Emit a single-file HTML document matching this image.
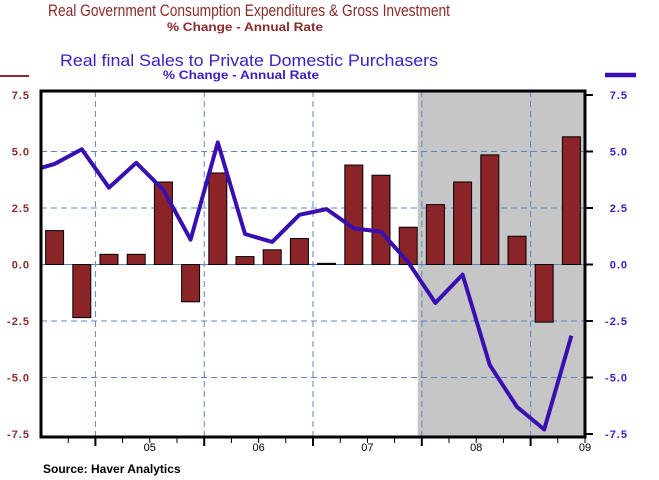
<!DOCTYPE html>
<html><head><meta charset="utf-8">
<style>
html,body{margin:0;padding:0;background:#fff;}
svg{display:block;font-family:"Liberation Sans",Arial,sans-serif;}
</style></head>
<body>
<svg id="chart" width="659" height="480" viewBox="0 0 659 480">
  <text x="249" y="16" text-anchor="middle" font-size="17" fill="#8b2a2a" textLength="402" lengthAdjust="spacingAndGlyphs">Real Government Consumption Expenditures &amp; Gross Investment</text>
  <text x="245" y="31" text-anchor="middle" font-size="12" font-weight="bold" fill="#8b2a2a" textLength="156" lengthAdjust="spacingAndGlyphs">% Change - Annual Rate</text>
  <text x="249" y="66" text-anchor="middle" font-size="17" fill="#3a1fc0" textLength="378" lengthAdjust="spacingAndGlyphs">Real final Sales to Private Domestic Purchasers</text>
  <text x="241" y="79" text-anchor="middle" font-size="12" font-weight="bold" fill="#3a1fc0" textLength="156" lengthAdjust="spacingAndGlyphs">% Change - Annual Rate</text>
  <line x1="0" y1="76" x2="29" y2="76" stroke="#8b2a2a" stroke-width="2"/>
  <line x1="605" y1="75" x2="636" y2="75" stroke="#3a0fb0" stroke-width="4.5"/>
  <g id="plot"></g>
  <text x="43" y="473" font-size="12" font-weight="bold" fill="#000">Source: Haver Analytics</text>
</svg>
<script>
const quarters = ["04Q3","04Q4","05Q1","05Q2","05Q3","05Q4","06Q1","06Q2","06Q3","06Q4","07Q1","07Q2","07Q3","07Q4","08Q1","08Q2","08Q3","08Q4","09Q1","09Q2"];
const govValues = [1.5,-2.35,0.45,0.45,3.65,-1.65,4.05,0.35,0.65,1.15,0.05,4.4,3.95,1.65,2.65,3.65,4.85,1.25,-2.55,5.65];
const priorSalesValue = 4.1;
const salesValues = [4.45,5.1,3.4,4.5,3.3,1.1,5.4,1.35,1.0,2.2,2.45,1.6,1.45,0.1,-1.7,-0.45,-4.45,-6.3,-7.3,-3.15];
const yTicks = [7.5,5.0,2.5,0.0,-2.5,-5.0,-7.5];
const yearLabels = ["05","06","07","08","09"];
const yearStartIndex = [2,6,10,14,18];
const recessionStart = 13.85;

const NS="http://www.w3.org/2000/svg";
const L=41,R=585,T=91,B=437;
const n=quarters.length, slot=(R-L)/n;
const xC=i=>L+slot*(i+0.5);
const xB=i=>L+slot*i;
const y=v=>264.5-v*22.6;
const g=document.getElementById('plot');
function mk(tag,attrs,parent){const e=document.createElementNS(NS,tag);for(const k in attrs)e.setAttribute(k,attrs[k]);(parent||g).appendChild(e);return e;}

const defs=mk('defs',{});
const cp=mk('clipPath',{id:'clip'},defs);
mk('rect',{x:L,y:T,width:R-L,height:B-T},cp);

let e=mk('rect',{x:xB(recessionStart),y:T,width:R-xB(recessionStart),height:B-T,fill:'#c6c6c6'});



yTicks.forEach(v=>{
  if(v===7.5||v===-7.5)return;
  const l=mk('line',{x1:L,x2:R,y1:y(v),y2:y(v),stroke:'#5b84c4','stroke-width':1,'stroke-dasharray':v===0?'none':'6,4'});
  
  
});
yearStartIndex.forEach(i=>{
  const l=mk('line',{x1:xB(i),x2:xB(i),y1:T,y2:B,stroke:'#5b84c4','stroke-width':1,'stroke-dasharray':'6,4'});
  
  
});

govValues.forEach((v,i)=>{
  const bw=18;
  const r=mk('rect',{x:xC(i)-bw/2,y:Math.min(y(v),y(0)),width:bw,height:Math.abs(y(v)-y(0)),fill:'#8b2428',stroke:'#000','stroke-width':1});
  
  
});

const pts=[[xC(-1),y(priorSalesValue)]].concat(salesValues.map((v,i)=>[xC(i),y(v)]));
const pl=mk('polyline',{points:pts.map(p=>p.join(',')).join(' '),fill:'none',stroke:'#3a0fb0','stroke-width':4,'stroke-linejoin':'round','clip-path':'url(#clip)'});



const frame=mk('path',{d:`M${L},${B} L${L},${T} L${R},${T} L${R},${B} Z`,fill:'none',stroke:'#000','stroke-width':3});



yTicks.forEach(v=>{
  const tl=mk('text',{x:30,y:y(v)+4,'text-anchor':'end','font-size':11,'font-weight':'bold','letter-spacing':1,fill:'#8b2a2a'});
  tl.textContent=v.toFixed(1);
  
  
  mk('line',{x1:R,x2:R+8,y1:y(v),y2:y(v),stroke:'#000','stroke-width':2});
  const tr=mk('text',{x:628,y:y(v)+4,'text-anchor':'end','font-size':11,'font-weight':'bold','letter-spacing':1,fill:'#3a1fc0'});
  tr.textContent=v.toFixed(1);
  
  
});
for(let i=1;i<=n;i++){
  const major=yearStartIndex.includes(i);
  mk('line',{x1:xB(i),x2:xB(i),y1:B,y2:B+(major?9:6),stroke:'#000','stroke-width':major?2:1});
}
yearLabels.forEach((lab,k)=>{
  const i=yearStartIndex[k];
  const cx=k<yearLabels.length-1?(xB(i)+xB(i+4))/2:R;
  const t=mk('text',{x:cx,y:451,'text-anchor':'middle','font-size':11,fill:'#000'});
  t.textContent=lab;
  
  
});
</script>
</body></html>
